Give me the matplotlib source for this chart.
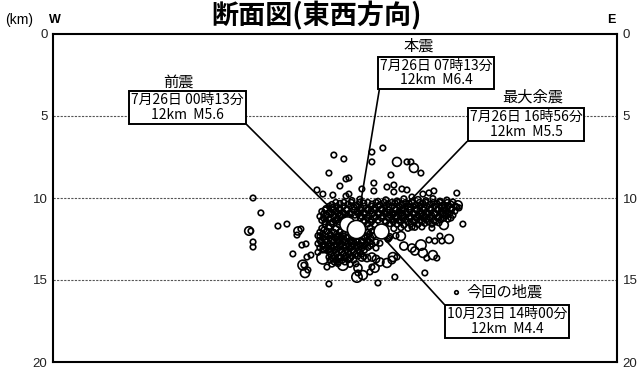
import matplotlib
matplotlib.use("Agg")
import matplotlib.pyplot as plt
import numpy as np

plt.rcParams['font.family'] = ['Noto Sans CJK JP', 'DejaVu Sans']

# Hypocentres: (east-west distance [km], depth [km], magnitude)
scattered = [
    (17.13, 7.38, 1.0), (17.74, 7.62, 1.0), (19.45, 7.20, 1.0), (20.12, 6.95, 1.0),
    (19.45, 7.80, 1.0), (16.83, 8.48, 1.0), (17.87, 8.84, 1.0), (18.05, 8.78, 1.0),
    (17.50, 9.27, 1.0), (19.57, 9.09, 1.0), (19.57, 9.57, 1.0), (20.98, 7.80, 3.4),
    (21.59, 7.80, 1.0), (21.83, 7.80, 1.0), (22.01, 8.17, 3.4), (22.44, 8.48, 1.0),
    (20.61, 8.60, 1.0), (20.79, 9.21, 1.0), (20.79, 9.63, 1.0), (21.28, 9.45, 1.0),
    (21.59, 9.51, 1.0), (16.10, 9.51, 1.0), (16.46, 9.76, 1.0), (17.07, 9.82, 1.0),
    (17.87, 9.88, 1.0), (18.05, 9.76, 1.0), (18.84, 9.45, 1.0), (20.37, 9.33, 1.0),
    (21.89, 9.94, 1.0), (22.56, 9.76, 1.0), (22.93, 9.69, 1.0), (23.23, 9.57, 1.0),
    (12.20, 10.00, 1.0), (12.68, 10.91, 1.0), (11.95, 12.01, 3.2), (12.07, 12.01, 0.8),
    (12.20, 12.68, 1.0), (12.20, 12.99, 1.0), (13.72, 11.71, 1.0), (14.27, 11.59, 1.0),
    (14.94, 12.01, 3.0), (15.12, 11.89, 1.0), (14.88, 12.26, 1.0), (15.18, 12.87, 1.0),
    (15.43, 12.80, 1.0), (14.63, 13.41, 1.0), (15.49, 13.60, 1.0), (15.73, 13.48, 1.0),
    (15.24, 14.09, 3.8), (15.30, 14.09, 0.8), (15.37, 14.57, 3.5), (15.55, 14.39, 1.0),
    (16.28, 12.32, 1.0), (16.83, 15.24, 1.0),
    (24.63, 9.70, 1.0), (24.70, 10.43, 3.2), (24.39, 10.24, 1.0), (25.00, 11.59, 1.0),
    (24.15, 12.50, 3.4), (23.60, 12.32, 1.0), (23.72, 12.62, 1.0), (23.29, 12.62, 1.0),
    (22.93, 12.56, 1.0), (22.44, 12.87, 4.0), (21.89, 13.05, 3.0), (22.07, 13.23, 3.0),
    (22.56, 13.35, 3.4), (23.17, 13.48, 3.4), (22.80, 13.66, 1.0), (23.41, 13.66, 1.0),
    (21.22, 12.32, 3.4), (21.40, 12.93, 3.0), (21.89, 11.77, 1.0), (23.11, 11.83, 1.0),
    (23.84, 11.65, 3.4), (24.27, 11.22, 1.0), (23.78, 10.55, 3.4), (24.63, 10.55, 1.0),
    (22.68, 14.57, 1.0), (20.85, 14.82, 1.0), (19.82, 15.18, 1.0),
    (18.54, 14.82, 4.0), (18.90, 14.70, 3.4), (19.33, 14.51, 1.0), (20.37, 13.96, 3.4),
    (20.73, 13.60, 3.4), (19.63, 14.27, 3.2), (16.46, 13.66, 4.6), (17.68, 14.09, 4.0),
    (17.38, 13.90, 1.0), (16.71, 14.21, 1.0), (16.83, 13.60, 1.0), (16.52, 11.95, 1.0),
    (18.84, 13.60, 3.0), (19.15, 13.66, 2.6), (19.45, 13.60, 3.0), (19.70, 13.72, 2.6),
    (19.94, 13.90, 3.0), (20.67, 13.78, 2.6), (20.98, 13.60, 1.0), (19.45, 14.21, 1.0),
    (18.60, 14.27, 3.0), (18.60, 14.57, 1.0),
    (16.89, 11.65, 3.0), (16.59, 13.05, 3.4), (18.29, 12.74, 3.0), (20.91, 11.04, 3.0),
    (22.38, 11.04, 3.0), (23.90, 10.91, 3.0), (17.50, 12.40, 3.0),
]

# Dense swarm along 10-12 km depth, east side
swarm_upper_x = [
    18.23, 18.72, 19.82, 20.30, 20.98, 21.40, 21.89, 22.26, 22.74, 23.17, 23.60, 24.02,
    17.01, 17.50, 17.99, 18.48, 18.96, 19.45, 19.94, 20.43, 20.85, 21.28, 21.71, 22.13,
    22.56, 22.99, 23.41, 23.84, 24.27,
    16.65, 17.07, 17.50, 17.93, 18.35, 18.78, 19.21, 19.63, 20.06, 20.49, 20.91, 21.34,
    21.77, 22.20, 22.62, 23.05, 23.48, 23.90, 24.33, 24.76,
    16.40, 16.83, 17.26, 17.68, 18.11, 18.54, 18.96, 19.39, 19.82, 20.24, 20.67, 21.10,
    21.52, 21.95, 22.38, 22.80, 23.23, 23.66, 24.09, 24.51,
    16.28, 16.71, 17.13, 17.56, 17.99, 18.41, 18.84, 19.27, 19.70, 20.12, 20.55, 20.98,
    21.40, 21.83, 22.26, 22.68, 23.11, 23.54, 23.96, 24.39,
    16.40, 16.83, 17.26, 17.68, 18.96, 19.39, 19.82, 20.24, 20.67, 21.10, 21.52, 21.95,
    22.38, 22.80, 23.23, 23.66, 24.09,
    16.59, 17.01, 17.44, 19.21, 19.63, 20.55, 20.98, 21.40, 21.83, 22.26, 22.68, 23.11, 23.54,
    16.40, 16.83, 17.26, 19.33, 20.79, 21.22, 21.65, 22.07, 22.50,
]
swarm_upper_depth = [
    10.15, 10.08, 10.20, 10.12, 10.18, 10.05, 10.22, 10.10, 10.16, 10.04, 10.19, 10.13,
    10.40, 10.33, 10.38, 10.44, 10.31, 10.37, 10.42, 10.35, 10.30, 10.41, 10.36, 10.44,
    10.32, 10.39, 10.34, 10.43, 10.37,
    10.64, 10.57, 10.62, 10.68, 10.55, 10.60, 10.66, 10.58, 10.63, 10.54, 10.67, 10.61,
    10.56, 10.65, 10.59, 10.62, 10.69, 10.57, 10.63, 10.60,
    10.82, 10.88, 10.80, 10.86, 10.91, 10.83, 10.87, 10.79, 10.90, 10.84, 10.88, 10.81,
    10.86, 10.92, 10.80, 10.85, 10.89, 10.83, 10.87, 10.81,
    11.12, 11.06, 11.14, 11.08, 11.11, 11.04, 11.13, 11.07, 11.15, 11.09, 11.05, 11.12,
    11.08, 11.14, 11.06, 11.11, 11.07, 11.13, 11.09, 11.05,
    11.36, 11.30, 11.38, 11.33, 11.37, 11.31, 11.35, 11.39, 11.32, 11.36, 11.30, 11.38,
    11.34, 11.31, 11.37, 11.33, 11.29,
    11.61, 11.55, 11.63, 11.58, 11.62, 11.56, 11.60, 11.64, 11.57, 11.61, 11.55, 11.59, 11.52,
    11.85, 11.80, 11.87, 11.82, 11.86, 11.81, 11.84, 11.79, 11.76,
]
swarm_upper_mag = [
    1.0, 1.2, 1.0, 1.4, 1.0, 1.2, 1.0, 1.5, 1.0, 1.2, 1.0, 1.3,
    1.2, 1.0, 1.4, 1.0, 1.2, 1.0, 1.5, 1.0, 1.2, 1.0, 2.0, 1.0,
    1.2, 1.0, 1.4, 1.0, 1.2,
    1.0, 1.3, 1.0, 1.2, 1.0, 1.5, 1.0, 1.2, 1.0, 1.4, 1.0, 1.2,
    1.0, 2.0, 1.0, 1.2, 1.0, 1.4, 1.0, 1.2,
    1.2, 1.0, 1.4, 1.0, 1.2, 1.0, 1.5, 1.0, 1.2, 1.0, 1.3, 1.0,
    1.2, 1.0, 1.5, 1.0, 2.2, 1.0, 1.2, 1.0,
    1.0, 1.4, 1.0, 1.2, 1.0, 1.3, 1.0, 1.2, 1.0, 1.5, 1.0, 1.2,
    1.0, 1.4, 1.0, 1.2, 1.0, 1.3, 1.0, 1.2,
    1.2, 1.0, 1.5, 1.0, 1.2, 1.0, 1.4, 1.0, 1.2, 1.0, 1.3, 1.0,
    1.2, 1.0, 1.5, 1.0, 1.2,
    1.0, 1.2, 1.0, 1.4, 1.0, 1.2, 1.0, 1.5, 1.0, 1.2, 1.0, 1.3, 1.0,
    1.2, 1.0, 1.4, 1.0, 1.2, 1.0, 1.5, 1.0, 1.2,
]

# Dense swarm below and west of the mainshock
swarm_lower_x = [
    16.28, 16.71, 17.13, 17.50, 19.21, 19.45,
    16.16, 16.59, 16.95, 17.32, 17.68, 18.05, 19.15, 19.57, 20.55, 20.91,
    16.28, 16.65, 17.01, 17.38, 17.74, 18.11, 18.48, 18.84, 19.21, 20.43,
    16.16, 16.52, 16.89, 17.26, 17.62, 17.99, 18.35, 18.72, 19.09, 19.45, 19.94,
    16.28, 16.65, 17.01, 17.38, 17.74, 18.11, 18.48, 18.84, 19.21, 19.70,
    16.16, 16.89, 17.26, 17.62, 17.99, 18.35, 18.72,
    17.13, 17.50, 17.87, 18.23, 18.60, 18.96,
    16.89, 17.26, 17.62, 17.99, 18.35,
    17.01, 17.38, 18.11, 18.48,
]
swarm_lower_depth = [
    12.09, 12.04, 12.10, 12.06, 12.08, 12.03,
    12.30, 12.35, 12.29, 12.34, 12.31, 12.36, 12.33, 12.28, 12.35, 12.30,
    12.58, 12.53, 12.57, 12.60, 12.54, 12.59, 12.55, 12.61, 12.56, 12.52,
    12.78, 12.83, 12.79, 12.84, 12.80, 12.77, 12.82, 12.85, 12.79, 12.81, 12.76,
    13.03, 13.07, 13.02, 13.06, 13.04, 13.08, 13.03, 13.06, 13.01, 13.05,
    13.31, 13.27, 13.32, 13.28, 13.30, 13.26, 13.31,
    13.52, 13.56, 13.51, 13.55, 13.53, 13.57,
    13.80, 13.76, 13.81, 13.77, 13.79,
    14.03, 14.00, 14.04, 14.01,
]
swarm_lower_mag = [
    1.2, 1.0, 1.4, 1.0, 1.2, 1.0,
    1.0, 1.3, 1.0, 1.2, 1.0, 1.5, 1.0, 1.2, 1.0, 1.4,
    1.2, 1.0, 1.4, 1.0, 1.2, 1.0, 1.5, 1.0, 1.2, 1.0,
    1.0, 1.2, 1.0, 1.5, 1.0, 1.2, 1.0, 1.4, 1.0, 1.2, 1.0,
    1.2, 1.0, 1.3, 1.0, 1.2, 1.0, 1.4, 1.0, 1.2, 1.0,
    1.0, 1.2, 1.0, 1.4, 1.0, 1.2, 1.0,
    1.2, 1.0, 1.3, 1.0, 1.2, 1.0,
    1.0, 1.2, 1.0, 1.4, 1.0,
    1.2, 1.0, 1.3, 1.0,
]

# Further swarm events between the rows above: (depth, east-west positions, magnitude)
swarm_fill = [
    (10.27, [17.25, 17.74, 18.20, 18.70, 19.20, 19.70, 20.20, 20.65, 21.05, 21.50,
             21.90, 22.35, 22.75, 23.20, 23.60, 24.05], 1.1),
    (10.50, [16.85, 17.30, 17.72, 18.15, 18.57, 19.00, 19.42, 19.85, 20.27, 20.70,
             21.12, 21.55, 21.98, 22.40, 22.83, 23.26, 23.70, 24.10, 24.55], 1.0),
    (10.73, [16.60, 17.05, 17.47, 17.90, 18.32, 18.75, 19.17, 19.60, 20.03, 20.45,
             20.88, 21.30, 21.73, 22.16, 22.60, 23.02, 23.45, 23.87, 24.30], 1.2),
    (10.97, [16.50, 16.95, 17.38, 17.80, 18.20, 18.62, 19.05, 19.48, 19.90, 20.33,
             20.76, 21.20, 21.62, 22.05, 22.48, 22.90, 23.33, 23.76, 24.18], 1.0),
    (11.22, [16.50, 16.92, 17.35, 17.78, 18.75, 19.17, 19.60, 20.03, 20.45, 20.88,
             21.30, 21.73, 22.16, 22.58, 23.00, 23.45, 23.85], 1.1),
    (11.46, [16.60, 17.05, 17.47, 19.00, 19.42, 20.30, 20.76, 21.20, 21.62, 22.05,
             22.48, 22.90, 23.33], 1.0),
    (12.20, [16.45, 16.90, 17.30, 17.70, 19.30], 1.1),
    (12.44, [16.45, 16.85, 17.20, 17.55, 17.90, 18.30, 19.00, 19.40, 20.50], 1.0),
    (12.68, [16.35, 16.70, 17.10, 17.45, 17.80, 18.20, 18.55, 18.90, 19.30, 19.70], 1.2),
    (12.92, [16.45, 16.80, 17.15, 17.50, 17.85, 18.20, 18.55, 18.95, 19.35], 1.0),
    (13.17, [16.45, 16.85, 17.20, 17.55, 17.90, 18.30, 18.65, 19.00], 1.1),
    (13.42, [16.95, 17.30, 17.70, 18.05, 18.45, 18.80], 1.0),
    (13.66, [17.05, 17.45, 17.80, 18.15], 1.2),
    (13.90, [17.15, 17.80], 1.0),
]

# Labelled events
event_names = ['前震', '本震', '最大余震', '今回の地震']
event_times = ['7月26日 00時13分', '7月26日 07時13分', '7月26日 16時56分', '10月23日 14時00分']
event_x = [17.91, 18.51, 20.00, 19.76]
event_depth = [11.60, 11.86, 12.01, 12.00]
event_mag = [5.6, 6.4, 5.5, 4.4]

depth_ticks = [0, 5, 10, 15, 20]
x_range = (0.0, 34.4)

DPI = 100
RING_LW = 1.2


def marker_area(mag):
    """Circle area (pt^2) growing with magnitude."""
    radius_px = 2.6 + 0.16 * np.asarray(mag) ** 2
    return (2 * radius_px * 72.0 / DPI) ** 2


fig = plt.figure(figsize=(6.37, 3.71), dpi=DPI)
ax = fig.add_axes([53 / 637, 9 / 371, 564 / 637, 328 / 371])

ax.set_xlim(*x_range)
ax.set_ylim(depth_ticks[-1], depth_ticks[0])
ax.set_xticks([])
ax.set_yticks(depth_ticks)
ax.set_yticklabels([str(t) for t in depth_ticks], family='Liberation Sans',
                   fontsize=9.5, color='#222222')
ax.tick_params(axis='y', length=0, labelleft=True, labelright=True, pad=4)
for sp in ax.spines.values():
    sp.set_linewidth(1.5)
    sp.set_zorder(5)

for d in depth_ticks[1:-1]:
    ax.axhline(d, color='#555555', lw=0.8, ls=(0, (2.0, 1.2)), zorder=1)

# all hypocentres as open rings
sx = [p[0] for p in scattered] + swarm_upper_x + swarm_lower_x
sd = [p[1] for p in scattered] + swarm_upper_depth + swarm_lower_depth
sm = [p[2] for p in scattered] + swarm_upper_mag + swarm_lower_mag
for depth, xs, mag in swarm_fill:
    sx += xs
    sd += [depth] * len(xs)
    sm += [mag] * len(xs)

today_area = (2 * 1.8 * 72.0 / DPI) ** 2
ax.scatter([event_x[3]], [event_depth[3]], s=today_area, facecolor='none',
           edgecolor='black', linewidths=RING_LW, zorder=2)

ax.scatter(sx, sd, s=marker_area(sm), facecolor='none',
           edgecolor='black', linewidths=RING_LW, zorder=3)

# the three largest shocks: white discs drawn over the swarm, largest last
big_order = sorted([0, 1, 2], key=lambda i: event_mag[i])
for i in big_order:
    ax.scatter([event_x[i]], [event_depth[i]], s=marker_area(event_mag[i]),
               facecolor='white', edgecolor='black', linewidths=RING_LW, zorder=4)

# annotation boxes (axes-fraction centres) and the box corner the leader leaves from
box_centre = [(0.2385, 0.776), (0.679, 0.881), (0.8387, 0.724), (0.805, 0.1235)]
box_corner = [(1, 0), (0, 0), (0, 0), (0, 1)]
name_pos = [(0.2216, 0.854), (0.649, 0.963), (0.850, 0.808), (0.800, 0.213)]

for i in range(4):
    txt = f"{event_times[i]}\n{round(event_depth[i])}km  M{event_mag[i]:.1f}"
    ax.annotate(txt, xy=(event_x[i], event_depth[i]), xycoords='data',
                xytext=box_centre[i], textcoords='axes fraction',
                ha='center', va='center', fontsize=10, linespacing=1.05,
                bbox=dict(boxstyle='square,pad=0.15', fc='white', ec='black', lw=1.4),
                arrowprops=dict(arrowstyle='-', color='black', lw=1.2,
                                relpos=box_corner[i], shrinkA=0, shrinkB=0),
                zorder=1.5)
    ax.text(name_pos[i][0], name_pos[i][1], event_names[i], transform=ax.transAxes,
            ha='center', va='center', fontsize=11, zorder=6)

# symbol for the latest event beside its caption
ax.scatter([0.7145], [0.212], s=today_area, transform=ax.transAxes, facecolor='white',
           edgecolor='black', linewidths=RING_LW, clip_on=False, zorder=6)

fig.text(0.497, 0.957, '断面図(東西方向)', ha='center', va='center',
         fontsize=19.5, fontweight='bold')
fig.text(5 / 637, 1 - 20 / 371, '(km)', ha='left', va='center', fontsize=10,
         family='Liberation Sans')
fig.text(55 / 637, 1 - 20 / 371, 'W', ha='center', va='center', fontsize=9,
         family='Liberation Sans', fontweight='bold')
fig.text(611.5 / 637, 1 - 20 / 371, 'E', ha='center', va='center', fontsize=9,
         family='Liberation Sans', fontweight='bold')

fig.savefig('out.png', dpi=DPI)
